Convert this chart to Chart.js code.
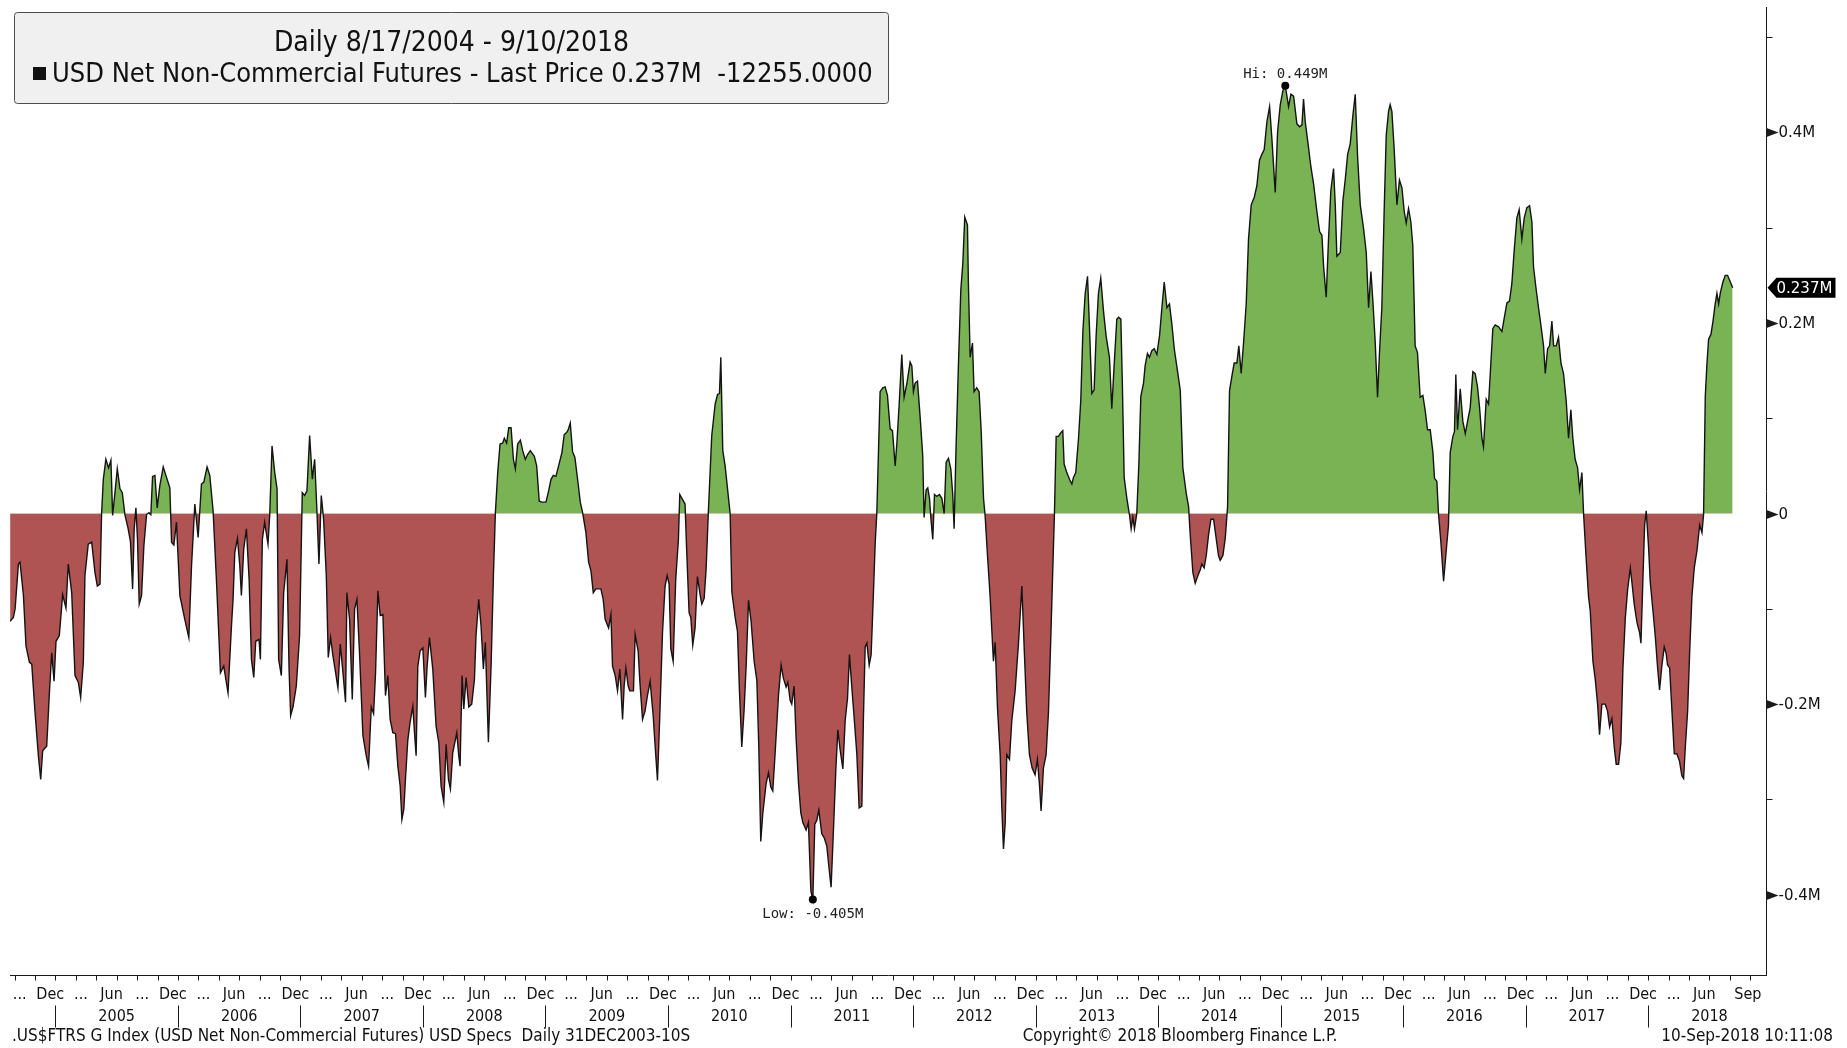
<!DOCTYPE html>
<html><head><meta charset="utf-8">
<script src="https://cdn.jsdelivr.net/npm/chart.js@4.4.1/dist/chart.umd.min.js"></script>
<style>html,body{margin:0;padding:0;background:#fff;overflow:hidden}canvas{display:block}</style>
</head><body>
<canvas id="c" width="1847" height="1048"></canvas>
<script>
// ---- data (dates as decimal years, values in millions of contracts) ----
const dates = [
2004.630,2004.657,2004.671,2004.698,2004.711,2004.739,2004.760,2004.788,2004.807,2004.834,2004.861,2004.880,2004.896,2004.929,2004.951,2004.970,2004.989,
2005.005,2005.032,2005.059,2005.086,2005.105,2005.133,2005.160,2005.187,2005.206,2005.228,2005.241,2005.268,2005.296,2005.323,2005.342,2005.364,2005.377,2005.391,2005.412,2005.434,2005.453,2005.467,2005.486,2005.505,2005.527,2005.546,2005.567,2005.594,2005.613,2005.630,2005.643,2005.657,2005.670,2005.684,2005.703,2005.722,2005.744,2005.763,2005.779,2005.793,2005.812,2005.831,2005.852,2005.880,2005.907,2005.934,2005.948,2005.967,2005.988,
2006.016,2006.056,2006.089,2006.111,2006.138,2006.165,2006.192,2006.211,2006.238,2006.260,2006.287,2006.314,2006.347,2006.374,2006.409,2006.437,2006.450,2006.464,2006.486,2006.505,2006.518,2006.537,2006.559,2006.581,2006.600,2006.619,2006.635,2006.662,2006.673,2006.689,2006.708,2006.735,2006.749,2006.768,2006.790,2006.809,2006.822,2006.844,2006.863,2006.890,2006.907,2006.920,2006.939,2006.966,2006.993,
2007.015,2007.034,2007.053,2007.075,2007.097,2007.116,2007.135,2007.151,2007.170,2007.189,2007.211,2007.227,2007.246,2007.265,2007.287,2007.306,2007.325,2007.347,2007.368,2007.379,2007.401,2007.423,2007.442,2007.461,2007.483,2007.510,2007.537,2007.556,2007.578,2007.597,2007.613,2007.632,2007.651,2007.673,2007.694,2007.713,2007.732,2007.754,2007.776,2007.795,2007.814,2007.828,2007.844,2007.857,2007.876,2007.895,2007.917,2007.931,2007.944,2007.958,2007.977,2007.999,
2008.020,2008.034,2008.053,2008.080,2008.107,2008.129,2008.148,2008.170,2008.189,2008.208,2008.224,2008.243,2008.276,2008.292,2008.303,2008.319,2008.333,2008.352,2008.374,2008.398,2008.420,2008.433,2008.455,2008.474,2008.493,2008.509,2008.534,2008.556,2008.575,2008.591,2008.610,2008.629,2008.651,2008.664,2008.683,2008.700,2008.719,2008.738,2008.754,2008.773,2008.795,2008.814,2008.835,2008.854,2008.876,2008.909,2008.928,2008.949,2008.971,
2009.004,2009.026,2009.045,2009.064,2009.085,2009.107,2009.134,2009.153,2009.172,2009.186,2009.202,2009.221,2009.240,2009.262,2009.284,2009.303,2009.330,2009.352,2009.371,2009.390,2009.411,2009.452,2009.471,2009.487,2009.515,2009.534,2009.547,2009.569,2009.588,2009.607,2009.629,2009.642,2009.656,2009.675,2009.688,2009.718,2009.732,2009.756,2009.770,2009.792,2009.813,2009.832,2009.854,2009.879,2009.895,2009.914,2009.933,2009.955,2009.976,2009.993,
2010.009,2010.023,2010.042,2010.063,2010.085,2010.096,2010.118,2010.139,2010.153,2010.172,2010.186,2010.202,2010.221,2010.240,2010.262,2010.276,2010.295,2010.311,2010.330,2010.357,2010.385,2010.404,2010.420,2010.431,2010.447,2010.466,2010.485,2010.507,2010.521,2010.548,2010.567,2010.583,2010.602,2010.621,2010.638,2010.657,2010.678,2010.703,2010.725,2010.741,2010.757,2010.774,2010.801,2010.820,2010.839,2010.855,2010.874,2010.902,2010.923,2010.942,2010.964,2010.978,2010.997,
2011.010,2011.029,2011.046,2011.065,2011.084,2011.100,2011.127,2011.146,2011.166,2011.182,2011.198,2011.214,2011.231,2011.255,2011.274,2011.296,2011.315,2011.331,2011.351,2011.370,2011.386,2011.405,2011.427,2011.446,2011.465,2011.481,2011.500,2011.519,2011.541,2011.560,2011.582,2011.595,2011.609,2011.623,2011.642,2011.658,2011.677,2011.691,2011.704,2011.718,2011.731,2011.753,2011.772,2011.791,2011.813,2011.832,2011.854,2011.868,2011.886,2011.908,2011.927,2011.949,2011.976,2011.990,
2012.003,2012.017,2012.036,2012.058,2012.079,2012.090,2012.107,2012.120,2012.134,2012.145,2012.161,2012.175,2012.194,2012.215,2012.235,2012.254,2012.270,2012.289,2012.308,2012.324,2012.335,2012.351,2012.371,2012.390,2012.406,2012.422,2012.444,2012.452,2012.466,2012.485,2012.498,2012.520,2012.539,2012.556,2012.575,2012.588,2012.607,2012.629,2012.643,2012.656,2012.670,2012.689,2012.711,2012.724,2012.738,2012.752,2012.765,2012.787,2012.806,2012.833,2012.860,2012.888,2012.907,2012.928,2012.950,2012.972,2012.996,
2013.015,2013.032,2013.045,2013.064,2013.086,2013.105,2013.124,2013.141,2013.154,2013.168,2013.187,2013.206,2013.222,2013.233,2013.255,2013.277,2013.296,2013.309,2013.328,2013.350,2013.369,2013.386,2013.405,2013.424,2013.440,2013.459,2013.478,2013.494,2013.513,2013.532,2013.554,2013.576,2013.603,2013.622,2013.641,2013.663,2013.677,2013.696,2013.709,2013.723,2013.745,2013.767,2013.780,2013.794,2013.807,2013.826,2013.843,2013.859,2013.881,2013.894,2013.913,2013.930,2013.949,2013.968,2013.990,
2014.012,2014.031,2014.050,2014.072,2014.093,2014.113,2014.132,2014.159,2014.181,2014.202,2014.230,2014.249,2014.262,2014.284,2014.303,2014.322,2014.344,2014.357,2014.376,2014.393,2014.412,2014.431,2014.453,2014.474,2014.493,2014.507,2014.529,2014.548,2014.567,2014.583,2014.602,2014.621,2014.643,2014.659,2014.678,2014.698,2014.719,2014.738,2014.760,2014.785,2014.806,2014.828,2014.847,2014.866,2014.888,2014.910,2014.929,2014.956,2014.975,2014.997,
2015.019,2015.038,2015.065,2015.084,2015.106,2015.133,2015.155,2015.174,2015.187,2015.201,2015.223,2015.247,2015.269,2015.296,2015.318,2015.337,2015.351,2015.372,2015.391,2015.410,2015.432,2015.446,2015.459,2015.487,2015.508,2015.527,2015.547,2015.568,2015.590,2015.609,2015.628,2015.650,2015.677,2015.699,2015.718,2015.737,2015.753,2015.772,2015.791,2015.807,2015.826,2015.845,2015.862,2015.881,2015.894,2015.908,2015.927,2015.949,2015.970,2015.990,
2016.009,2016.025,2016.044,2016.063,2016.079,2016.098,2016.117,2016.139,2016.161,2016.180,2016.199,2016.221,2016.243,2016.256,2016.275,2016.289,2016.308,2016.330,2016.351,2016.370,2016.384,2016.406,2016.419,2016.430,2016.444,2016.466,2016.487,2016.507,2016.526,2016.547,2016.569,2016.588,2016.607,2016.624,2016.643,2016.656,2016.678,2016.697,2016.716,2016.732,2016.751,2016.779,2016.806,2016.825,2016.847,2016.868,2016.887,2016.907,2016.928,2016.947,2016.969,2016.988,
2017.010,2017.032,2017.051,2017.064,2017.083,2017.105,2017.124,2017.146,2017.160,2017.179,2017.195,2017.214,2017.228,2017.249,2017.268,2017.288,2017.309,2017.331,2017.350,2017.369,2017.385,2017.404,2017.424,2017.440,2017.459,2017.473,2017.494,2017.513,2017.527,2017.549,2017.568,2017.587,2017.603,2017.622,2017.649,2017.668,2017.685,2017.704,2017.723,2017.739,2017.758,2017.777,2017.794,2017.813,2017.832,2017.854,2017.867,2017.886,2017.908,2017.930,2017.941,2017.957,2017.971,2017.984,
2018.003,2018.017,2018.039,2018.058,2018.077,2018.093,2018.112,2018.131,2018.147,2018.158,2018.175,2018.194,2018.213,2018.234,2018.256,2018.275,2018.289,2018.303,2018.322,2018.338,2018.357,2018.376,2018.398,2018.420,2018.439,2018.452,2018.466,2018.479,2018.493,2018.512,2018.528,2018.547,2018.561,2018.575,2018.588,2018.610,2018.629,2018.648,2018.690
];
const values = [
-0.113,-0.109,-0.100,-0.053,-0.051,-0.086,-0.139,-0.156,-0.158,-0.209,-0.254,-0.279,-0.249,-0.244,-0.188,-0.146,-0.176,
-0.134,-0.128,-0.085,-0.099,-0.053,-0.083,-0.170,-0.177,-0.193,-0.156,-0.065,-0.032,-0.030,-0.062,-0.076,-0.074,0.000,0.036,0.057,0.048,0.056,-0.002,0.022,0.047,0.026,0.022,-0.001,-0.016,-0.030,-0.079,-0.016,0.006,-0.027,-0.095,-0.086,-0.034,-0.001,0.001,-0.001,0.039,0.040,0.006,0.029,0.049,0.038,0.027,-0.030,-0.033,-0.009,
-0.086,-0.111,-0.130,-0.055,0.010,-0.025,0.031,0.033,0.049,0.040,0.003,-0.069,-0.167,-0.160,-0.188,-0.118,-0.090,-0.041,-0.026,-0.055,-0.086,-0.037,-0.016,-0.069,-0.153,-0.172,-0.134,-0.132,-0.153,-0.027,-0.009,-0.032,-0.002,0.071,0.043,0.026,-0.153,-0.170,-0.083,-0.048,-0.163,-0.212,-0.203,-0.181,-0.128,
0.022,0.019,0.024,0.082,0.036,0.057,0.001,-0.053,0.019,-0.006,-0.065,-0.151,-0.130,-0.149,-0.167,-0.183,-0.137,-0.167,-0.198,-0.083,-0.111,-0.195,-0.100,-0.090,-0.149,-0.233,-0.254,-0.265,-0.203,-0.210,-0.167,-0.081,-0.107,-0.106,-0.191,-0.170,-0.216,-0.230,-0.231,-0.265,-0.286,-0.321,-0.310,-0.279,-0.238,-0.219,-0.202,-0.230,-0.254,-0.160,-0.144,-0.141,
-0.193,-0.160,-0.130,-0.163,-0.223,-0.240,-0.286,-0.303,-0.242,-0.279,-0.289,-0.251,-0.230,-0.254,-0.265,-0.170,-0.205,-0.172,-0.203,-0.200,-0.174,-0.128,-0.090,-0.118,-0.163,-0.135,-0.240,-0.160,-0.065,0.001,0.043,0.073,0.074,0.079,0.074,0.090,0.090,0.057,0.047,0.073,0.077,0.066,0.057,0.062,0.066,0.060,0.050,0.013,0.012,
0.012,0.024,0.036,0.040,0.039,0.050,0.064,0.083,0.085,0.088,0.095,0.065,0.059,0.036,0.012,0.001,-0.020,-0.051,-0.060,-0.083,-0.079,-0.079,-0.090,-0.111,-0.120,-0.106,-0.160,-0.170,-0.186,-0.163,-0.216,-0.181,-0.162,-0.181,-0.186,-0.186,-0.127,-0.144,-0.176,-0.216,-0.207,-0.191,-0.176,-0.212,-0.244,-0.280,-0.212,-0.125,-0.076,-0.065,
-0.074,-0.142,-0.155,-0.069,-0.027,0.020,0.015,0.010,-0.041,-0.104,-0.109,-0.138,-0.120,-0.066,-0.085,-0.095,-0.089,-0.058,0.004,0.082,0.115,0.125,0.126,0.164,0.066,0.050,0.027,0.000,-0.082,-0.109,-0.124,-0.186,-0.245,-0.206,-0.159,-0.091,-0.113,-0.155,-0.175,-0.245,-0.344,-0.314,-0.283,-0.272,-0.287,-0.291,-0.252,-0.190,-0.159,-0.173,-0.182,-0.177,-0.196,
-0.200,-0.181,-0.237,-0.283,-0.314,-0.324,-0.332,-0.324,-0.396,-0.405,-0.326,-0.322,-0.311,-0.336,-0.340,-0.349,-0.373,-0.392,-0.330,-0.268,-0.227,-0.248,-0.268,-0.217,-0.194,-0.148,-0.182,-0.214,-0.252,-0.309,-0.307,-0.214,-0.140,-0.136,-0.159,-0.148,-0.082,-0.031,0.000,0.066,0.128,0.132,0.133,0.124,0.089,0.087,0.050,0.074,0.113,0.167,0.122,0.136,0.159,0.155,
0.128,0.137,0.139,0.101,0.061,-0.004,0.025,0.027,0.016,-0.004,-0.027,0.020,0.018,0.020,0.016,0.000,0.054,0.058,0.047,0.020,-0.016,0.070,0.159,0.235,0.262,0.311,0.303,0.240,0.164,0.179,0.128,0.132,0.128,0.087,0.016,-0.002,-0.043,-0.087,-0.123,-0.155,-0.135,-0.204,-0.253,-0.307,-0.352,-0.325,-0.253,-0.258,-0.217,-0.186,-0.137,-0.076,-0.141,-0.209,-0.253,-0.267,-0.274,
-0.258,-0.285,-0.312,-0.267,-0.253,-0.209,-0.132,-0.056,0.000,0.081,0.081,0.085,0.087,0.052,0.043,0.036,0.031,0.038,0.043,0.078,0.119,0.191,0.231,0.249,0.195,0.126,0.130,0.186,0.231,0.247,0.213,0.186,0.164,0.110,0.155,0.204,0.206,0.204,0.132,0.038,0.016,-0.002,-0.016,-0.004,-0.016,0.000,0.052,0.123,0.137,0.155,0.168,0.164,0.171,0.173,0.167,
0.187,0.216,0.243,0.216,0.220,0.198,0.173,0.149,0.129,0.048,0.021,0.007,-0.022,-0.062,-0.073,-0.066,-0.059,-0.053,-0.057,-0.044,-0.022,-0.006,-0.006,-0.026,-0.044,-0.049,-0.044,-0.026,0.007,0.129,0.144,0.158,0.158,0.176,0.147,0.180,0.220,0.288,0.324,0.332,0.344,0.371,0.377,0.382,0.411,0.427,0.393,0.337,0.400,0.429,
0.444,0.449,0.427,0.440,0.438,0.409,0.406,0.408,0.435,0.411,0.389,0.364,0.346,0.317,0.296,0.292,0.259,0.227,0.288,0.339,0.362,0.324,0.270,0.274,0.328,0.350,0.377,0.388,0.418,0.440,0.375,0.324,0.299,0.274,0.216,0.254,0.223,0.180,0.122,0.169,0.216,0.317,0.397,0.422,0.429,0.422,0.382,0.324,0.350,0.342,
0.317,0.305,0.320,0.306,0.281,0.176,0.169,0.122,0.124,0.108,0.088,0.088,0.064,0.037,0.034,-0.001,-0.030,-0.071,-0.040,-0.012,0.064,0.081,0.086,0.146,0.088,0.131,0.097,0.084,0.097,0.111,0.149,0.147,0.133,0.111,0.079,0.070,0.120,0.115,0.158,0.194,0.198,0.196,0.191,0.205,0.221,0.223,0.241,0.277,0.310,0.319,0.288,0.310,
0.321,0.323,0.306,0.259,0.238,0.216,0.198,0.176,0.147,0.173,0.176,0.202,0.176,0.176,0.185,0.158,0.147,0.118,0.079,0.109,0.079,0.057,0.048,0.025,0.043,-0.001,-0.048,-0.087,-0.102,-0.155,-0.174,-0.200,-0.232,-0.200,-0.200,-0.207,-0.224,-0.215,-0.245,-0.263,-0.263,-0.241,-0.162,-0.110,-0.080,-0.057,-0.072,-0.095,-0.114,-0.125,-0.136,-0.069,-0.012,0.003,
-0.035,-0.072,-0.102,-0.129,-0.162,-0.185,-0.159,-0.140,-0.147,-0.159,-0.162,-0.207,-0.252,-0.252,-0.260,-0.275,-0.278,-0.245,-0.207,-0.147,-0.087,-0.057,-0.039,-0.012,-0.020,-0.001,0.123,0.156,0.183,0.188,0.201,0.220,0.231,0.220,0.231,0.243,0.250,0.250,0.237
];
const yTickValues = [-0.4,-0.3,-0.2,-0.1,0,0.1,0.2,0.3,0.4,0.5];
const yLabels = {'-0.4':'-0.4M','-0.2':'-0.2M','0':'0','0.2':'0.2M','0.4':'0.4M'};
const years = [2005,2006,2007,2008,2009,2010,2011,2012,2013,2014,2015,2016,2017,2018];
const quarterNames = {3:'...',6:'Jun',9:'...',12:'Dec'};
const lastPrice = 0.237;
const hiPoint = {x:2015.038, y:0.449, label:'Hi: 0.449M'};
const lowPoint = {x:2011.182, y:-0.405, label:'Low: -0.405M'};
const legendTitle = 'Daily 8/17/2004 - 9/10/2018';
const legendText = 'USD Net Non-Commercial Futures - Last Price 0.237M  -12255.0000';
const footLeft = '.US$FTRS G Index (USD Net Non-Commercial Futures) USD Specs  Daily 31DEC2003-10S';
const footMid = 'Copyright\u00A9 2018 Bloomberg Finance L.P.';
const footRight = '10-Sep-2018 10:11:08';

const X_MIN = 2004.6294, X_MAX = 2018.9616, Y_MIN = -0.4842, Y_MAX = 0.5316;
const GREEN = 'rgb(122,179,83)', RED = 'rgb(176,83,83)';
const AXIS = '#1a1a1a';
const CF = '"DejaVu Sans Condensed","DejaVu Sans",sans-serif';

// month row labels at mid-month of each quarter
const monthLabels = [];
for (let yr = 2004; yr <= 2018; yr++) {
  for (const m of [3,6,9,12]) {
    const t = yr + (m - 1) / 12;
    if (t + 1/12 < X_MIN) continue;
    if (yr === 2018 && m > 9) continue;
    let lbl = quarterNames[m];
    if (yr === 2018 && m === 9) lbl = 'Sep';
    monthLabels.push({start: t, label: lbl});
  }
}

const decor = {
  id: 'decor',
  afterDraw(chart) {
    const ctx = chart.ctx, x = chart.scales.x, y = chart.scales.y, ca = chart.chartArea;
    ctx.save();
    // ---- right axis ticks and labels
    const axX = Math.round(ca.right) + 0.5;
    ctx.fillStyle = AXIS; ctx.strokeStyle = AXIS; ctx.lineWidth = 1;
    yTickValues.forEach(v => {
      const py = Math.round(y.getPixelForValue(v)) + 0.5;
      const key = String(v);
      if (yLabels[key] !== undefined) {
        ctx.beginPath();
        ctx.moveTo(axX, py - 4.5); ctx.lineTo(axX + 12, py); ctx.lineTo(axX, py + 4.5); ctx.closePath();
        ctx.fill();
        ctx.font = '15px "DejaVu Sans",sans-serif';
        ctx.fillStyle = '#111'; ctx.textAlign = 'left'; ctx.textBaseline = 'middle';
        ctx.fillText(yLabels[key], axX + 12, py + 1);
        ctx.fillStyle = AXIS;
      } else {
        ctx.beginPath(); ctx.moveTo(axX, py); ctx.lineTo(axX + 6, py); ctx.stroke();
      }
    });
    // ---- last price tag
    const ly = y.getPixelForValue(lastPrice);
    ctx.fillStyle = '#000';
    ctx.beginPath();
    ctx.moveTo(axX + 1, ly); ctx.lineTo(axX + 10, ly - 10); ctx.lineTo(axX + 69, ly - 10);
    ctx.lineTo(axX + 69, ly + 10); ctx.lineTo(axX + 10, ly + 10); ctx.closePath(); ctx.fill();
    ctx.fillStyle = '#fff'; ctx.font = '15px "DejaVu Sans",sans-serif';
    ctx.textAlign = 'left'; ctx.textBaseline = 'middle';
    ctx.fillText(lastPrice.toFixed(3) + 'M', axX + 10, ly + 1);

    // ---- bottom axis: ticks every two months, month row labels, year row
    const by = Math.round(ca.bottom) + 0.5;
    ctx.strokeStyle = AXIS; ctx.lineWidth = 1;
    for (let yr = 2004; yr <= 2018; yr++) {
      for (let m = 0; m < 12; m += 2) {
        const t = yr + m / 12;
        if (t < X_MIN || t > X_MAX) continue;
        const px = Math.round(x.getPixelForValue(t)) + 0.5;
        ctx.beginPath(); ctx.moveTo(px, by); ctx.lineTo(px, by + 5); ctx.stroke();
      }
    }
    ctx.fillStyle = '#111'; ctx.font = '16px ' + CF; ctx.textAlign = 'center'; ctx.textBaseline = 'middle';
    monthLabels.forEach((ml, i) => {
      let a = Math.max(ml.start, X_MIN), b = ml.start + 1/12;
      if (i === monthLabels.length - 1) b = X_MAX;
      const px = (x.getPixelForValue(a) + x.getPixelForValue(b)) / 2;
      ctx.fillText(ml.label, px, by + 19);
    });
    years.forEach(yr => {
      const sx = Math.round(x.getPixelForValue(yr)) + 0.5;
      ctx.beginPath(); ctx.moveTo(sx, by + 30); ctx.lineTo(sx, by + 52); ctx.stroke();
      ctx.fillText(String(yr), x.getPixelForValue(yr + 0.5), by + 41);
    });
    // ---- footer
    ctx.textBaseline = 'middle'; ctx.font = '17px ' + CF;
    ctx.textAlign = 'left'; ctx.fillText(footLeft, 12, 1037);
    ctx.textAlign = 'center'; ctx.fillText(footMid, 1180, 1037);
    ctx.textAlign = 'right'; ctx.fillText(footRight, 1833, 1037);

    // ---- hi / low markers
    ctx.fillStyle = '#000';
    [hiPoint, lowPoint].forEach(p => {
      const px = x.getPixelForValue(p.x), py = y.getPixelForValue(p.y);
      ctx.beginPath(); ctx.arc(px, py, 4, 0, Math.PI * 2); ctx.fill();
    });
    ctx.font = '14px "DejaVu Sans Mono",monospace'; ctx.fillStyle = '#222'; ctx.textAlign = 'center';
    ctx.fillText(hiPoint.label, x.getPixelForValue(hiPoint.x), y.getPixelForValue(hiPoint.y) - 11);
    ctx.fillText(lowPoint.label, x.getPixelForValue(lowPoint.x), y.getPixelForValue(lowPoint.y) + 15);

    // ---- legend box
    const L = 14.5, T = 12.5, W = 874, H = 91;
    ctx.fillStyle = '#f0f0f0'; ctx.strokeStyle = '#4d4d4d'; ctx.lineWidth = 1;
    ctx.beginPath(); ctx.roundRect(L, T, W, H, 3); ctx.fill(); ctx.stroke();
    ctx.fillStyle = '#111'; ctx.textAlign = 'center'; ctx.textBaseline = 'middle';
    ctx.font = '28px ' + CF;
    ctx.fillText(legendTitle, L + W / 2, 44);
    ctx.fillRect(33, 67, 13, 13);
    ctx.textAlign = 'left'; ctx.font = '27px ' + CF;
    ctx.fillText(legendText, 52, 75);
    ctx.restore();
  }
};

new Chart(document.getElementById('c'), {
  type: 'line',
  data: {
    datasets: [{
      label: 'USD Net Non-Commercial Futures',
      data: dates.map((d, i) => ({x: d, y: values[i]})),
      borderColor: '#141414', borderWidth: 1.4, pointRadius: 0, tension: 0,
      fill: {target: 'origin', above: GREEN, below: RED}
    }]
  },
  options: {
    responsive: false, animation: false, devicePixelRatio: 1,
    layout: {padding: {left: 10, top: 7, right: 0, bottom: 0}},
    plugins: {legend: {display: false}, tooltip: {enabled: false}},
    scales: {
      x: {type: 'linear', min: X_MIN, max: X_MAX,
          grid: {display: false, drawTicks: false}, ticks: {display: false},
          border: {display: true, color: AXIS, width: 1},
          afterFit(s) { s.height = 73; }},
      y: {type: 'linear', position: 'right', min: Y_MIN, max: Y_MAX,
          afterBuildTicks(s) { s.ticks = yTickValues.map(v => ({value: v})); },
          grid: {display: false, drawTicks: false}, ticks: {display: false},
          border: {display: true, color: AXIS, width: 1},
          afterFit(s) { s.width = 81; }}
    }
  },
  plugins: [decor]
});
</script>
</body></html>
